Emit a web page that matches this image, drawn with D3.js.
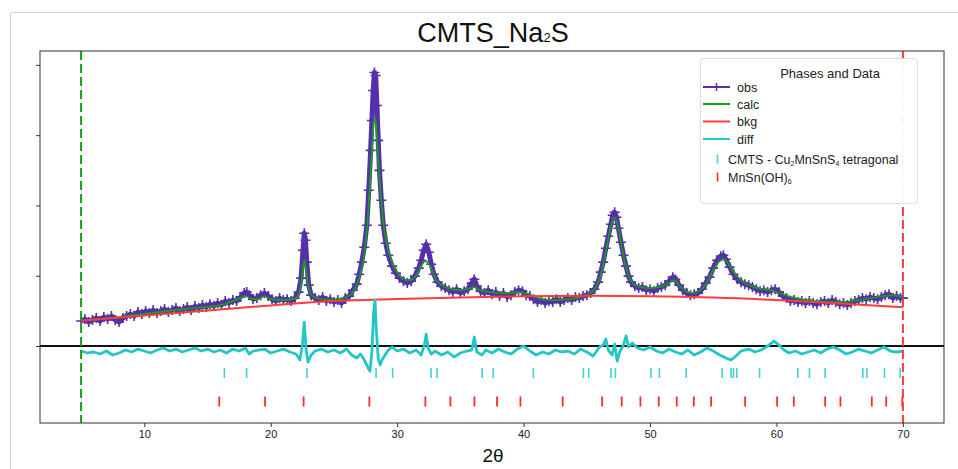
<!DOCTYPE html>
<html>
<head>
<meta charset="utf-8">
<script src="https://cdn.jsdelivr.net/npm/d3@7"></script>
<style>
  body { margin: 0; background: #fff; }
  text { font-family: "Liberation Sans", Arial, sans-serif; }
</style>
</head>
<body>
<svg id="chart"></svg>
<script>
// 2theta / intensity pairs
const obs = [
  [5.0,355],[5.3,383],[5.6,341],[5.9,369],[6.2,398],[6.5,355],[6.8,412],[7.1,383],[7.4,426],[7.7,369],
  [8.0,341],[8.3,398],[8.6,426],[8.9,454],[9.2,426],[9.5,483],[9.8,454],[10.1,497],[10.4,469],[10.7,511],
  [11.0,469],[11.3,497],[11.6,525],[11.9,483],[12.2,511],[12.5,540],[12.8,497],[13.1,525],[13.4,554],[13.7,511],
  [14.0,568],[14.3,540],[14.6,582],[14.9,554],[15.2,596],[15.5,568],[15.8,611],[16.1,582],[16.4,639],[16.7,611],
  [17.0,653],[17.3,639],[17.6,696],[17.9,753],[18.1,767],[18.3,724],[18.6,667],[18.9,682],[19.2,724],[19.5,753],
  [19.8,710],[20.1,667],[20.4,639],[20.7,682],[21.0,653],[21.3,667],[21.6,639],[21.9,682],[22.2,767],[22.4,966],
  [22.55,1363],[22.65,1605],[22.75,1505],[22.85,1193],[23.0,866],[23.2,724],[23.5,682],[23.8,653],[24.1,696],[24.4,639],
  [24.7,667],[25.0,625],[25.3,653],[25.6,611],[25.9,682],[26.2,710],[26.5,795],[26.8,880],[27.0,1022],[27.2,1193],
  [27.4,1406],[27.6,1718],[27.75,2215],[27.9,2783],[28.0,3209],[28.1,3635],[28.2,3891],[28.3,3848],[28.4,3422],[28.5,2925],
  [28.6,2499],[28.75,2073],[28.9,1718],[29.1,1463],[29.3,1292],[29.6,1136],[29.9,1037],[30.2,966],[30.5,923],[30.8,895],
  [31.1,923],[31.4,994],[31.7,1108],[31.9,1221],[32.1,1363],[32.3,1448],[32.5,1335],[32.7,1164],[32.9,1022],[33.2,909],
  [33.5,852],[33.8,824],[34.1,795],[34.4,767],[34.7,809],[35.0,753],[35.3,781],[35.6,809],[35.9,895],[36.1,951],
  [36.3,852],[36.6,781],[36.9,753],[37.2,795],[37.5,738],[37.8,767],[38.1,710],[38.4,753],[38.7,696],[39.0,724],
  [39.3,767],[39.6,795],[39.9,781],[40.2,724],[40.5,710],[40.8,667],[41.1,625],[41.4,653],[41.7,611],[42.0,639],
  [42.3,625],[42.6,667],[42.9,625],[43.2,653],[43.5,682],[43.8,653],[44.1,696],[44.4,682],[44.7,710],[45.0,724],
  [45.3,753],[45.6,809],[45.9,909],[46.1,1051],[46.3,1193],[46.5,1392],[46.7,1562],[46.9,1732],[47.05,1860],[47.2,1903],
  [47.35,1832],[47.5,1676],[47.7,1477],[47.9,1292],[48.1,1136],[48.3,994],[48.5,909],[48.8,852],[49.1,824],[49.4,838],
  [49.7,795],[50.0,809],[50.3,781],[50.6,824],[50.9,838],[51.2,866],[51.5,923],[51.8,980],[52.0,951],[52.3,866],
  [52.6,795],[52.9,753],[53.2,724],[53.5,738],[53.8,753],[54.1,809],[54.4,895],[54.7,980],[55.0,1108],[55.3,1221],
  [55.6,1278],[55.8,1292],[56.0,1235],[56.3,1122],[56.6,1022],[56.9,951],[57.2,909],[57.5,880],[57.8,866],[58.1,838],
  [58.4,809],[58.7,781],[59.0,795],[59.3,767],[59.6,795],[59.9,809],[60.2,767],[60.5,710],[60.8,682],[61.1,639],
  [61.4,653],[61.7,625],[62.0,639],[62.3,611],[62.6,639],[62.9,611],[63.2,596],[63.5,625],[63.8,639],[64.1,611],
  [64.4,653],[64.7,625],[65.0,596],[65.3,611],[65.6,582],[65.9,611],[66.2,639],[66.5,653],[66.8,682],[67.1,667],
  [67.4,696],[67.7,682],[68.0,667],[68.3,696],[68.6,724],[68.9,738],[69.2,682],[69.5,710],[69.8,682],[70.0,682]
];

const calc = [
  [5,362],[8,412],[11,483],[14,540],[16,582],[17,639],[17.6,682],[18.05,710],[18.5,667],[19.0,667],
  [19.5,710],[20.0,667],[21,653],[22,682],[22.3,795],[22.5,1008],[22.65,1221],[22.8,1079],[23.0,824],[23.3,710],
  [24,667],[25,653],[26,696],[26.5,767],[27.0,980],[27.3,1193],[27.6,1647],[27.8,2144],[28.0,2783],[28.15,3181],
  [28.25,3238],[28.35,3096],[28.5,2641],[28.7,2144],[28.9,1761],[29.2,1434],[29.6,1193],[30.0,1051],[30.5,951],[31.0,937],
  [31.5,1008],[31.9,1136],[32.2,1207],[32.4,1193],[32.7,1108],[33.0,966],[33.5,866],[34,824],[35,795],[35.8,824],
  [36.1,838],[36.5,795],[37.5,767],[38.5,753],[39.7,767],[40.5,724],[41.5,667],[42.5,653],[43.5,667],[44.5,696],
  [45.3,753],[45.8,866],[46.2,1079],[46.6,1434],[46.9,1704],[47.2,1832],[47.5,1676],[47.8,1363],[48.1,1122],[48.5,923],
  [49,852],[50,824],[51,852],[51.5,895],[51.9,937],[52.3,866],[52.8,781],[53.4,753],[54,795],[54.5,909],
  [55,1079],[55.5,1207],[55.8,1235],[56.1,1193],[56.5,1079],[57,966],[57.5,895],[58.5,824],[59.5,795],[60.5,738],
  [61.5,682],[63,639],[65,625],[66.5,653],[67.5,682],[68.5,710],[69.2,724],[70,696]
];

const bkg = [
  [5,360],[10,433],[15,505],[20,578],[25,640],[30,668],[35,690],[40,707],[45,714],[50,708],
  [55,690],[60,654],[65,604],[70,550]
];

const diff = [
  [5.0,-71],[5.5,-99],[6,-85],[6.5,-114],[7,-71],[7.5,-128],[8,-99],[8.5,-57],[9,-85],[9.5,-43],
  [10,-71],[10.5,-99],[11,-57],[11.5,-28],[12,-71],[12.5,-43],[13,-85],[13.5,-57],[14,-28],[14.5,-71],
  [15,-43],[15.5,-85],[16,-57],[16.5,-99],[17,-43],[17.5,-71],[18,-28],[18.3,-114],[18.6,-71],[19,-57],
  [19.5,-43],[20,-99],[20.5,-71],[21,-43],[21.5,-85],[22,-114],[22.3,-199],[22.5,14],[22.65,341],[22.8,-57],
  [22.95,-227],[23.2,-128],[23.5,-71],[24,-43],[24.5,-85],[25,-57],[25.5,-99],[26,-43],[26.4,-128],[26.8,-170],
  [27.1,-114],[27.4,-199],[27.7,-312],[27.85,-355],[28.0,-85],[28.15,511],[28.25,653],[28.35,227],[28.5,-170],[28.65,-270],
  [28.8,-199],[29.0,-142],[29.3,-57],[29.6,-14],[30,-71],[30.5,-43],[31,-99],[31.5,-57],[31.9,-128],[32.15,14],
  [32.3,170],[32.45,-28],[32.7,-114],[33.0,-71],[33.5,-128],[34,-85],[34.5,-156],[35,-99],[35.5,-71],[35.9,-57],
  [36.1,128],[36.3,-85],[36.7,-128],[37,-57],[37.5,-99],[38,-43],[38.5,-85],[39,-114],[39.5,-43],[40,0],
  [40.5,-71],[41,-128],[41.5,-85],[42,-114],[42.5,-57],[43,-85],[43.5,-71],[44,-114],[44.5,-43],[45,-85],
  [45.5,-142],[46,-14],[46.3,14],[46.5,99],[46.7,-57],[47.0,-128],[47.2,28],[47.4,-213],[47.6,-85],[47.9,14],
  [48.1,142],[48.3,-14],[48.6,43],[49,-28],[49.5,-57],[50,-14],[50.5,-71],[51,-99],[51.5,-43],[52,-85],
  [52.5,-114],[53,-57],[53.5,-128],[54,-85],[54.5,-28],[55,-71],[55.5,-128],[56,-170],[56.4,-199],[56.8,-142],
  [57.2,-71],[57.8,-43],[58.3,-85],[58.8,-57],[59.3,0],[59.8,71],[60.2,14],[60.6,-57],[61,-99],[61.5,-71],
  [62,-114],[62.5,-85],[63,-57],[63.5,-99],[64,-43],[64.5,-14],[65,-57],[65.5,-114],[66,-85],[66.5,-43],
  [67,-71],[67.5,-99],[68,-57],[68.5,-14],[69,-71],[69.5,-85],[70,-71]
];

// reflection positions (2theta) of the two phases
const cmtsTicks = [16.33,18.09,22.87,28.33,29.64,32.68,33.15,36.72,37.6,40.77,44.73,45.15,46.92,47.26,50.08,
  50.74,52.86,55.7,56.41,56.6,56.86,58.66,61.69,62.61,63.85,66.83,67.15,68.54,69.78];
const hydroxTicks = [15.93,19.55,22.6,27.8,32.23,34.21,36.11,37.9,39.75,43.09,46.21,47.76,49.24,50.69,52.11,
  53.46,54.83,57.52,60.05,61.37,63.85,65.06,67.54,68.68,69.95];
const cmtsRow = -384;
const hydroxRow = -789;

const xTicks = [10, 20, 30, 40, 50, 60, 70];
const yTicks = [0, 1000, 2000, 3000, 4000];
const limits = [5, 70];

const width = 958, height = 469;
const plotLeft = 40, plotRight = 944, plotTop = 51, plotBottom = 423;

const colObs = "#5530a8", colCalc = "#12a312", colBkg = "#ff3b3b", colDiff = "#22c6c6";
const colTickC = "#3fd3d3", colTickR = "#ff2a2a";

const svg = d3.select("#chart").attr("width", width).attr("height", height);

// outer frame of the figure
svg.append("path")
    .attr("d", `M10.5,${height} V12.5 H${width}`)
    .attr("fill", "none")
    .attr("stroke", "#d0d0d0");

const x = d3.scaleLinear().domain([1.75, 73.25]).range([plotLeft, plotRight]);
const y = d3.scaleLinear().domain([-1095, 4197]).range([plotBottom, plotTop]);

svg.append("clipPath").attr("id", "plotArea")
    .append("rect")
    .attr("x", plotLeft).attr("y", plotTop)
    .attr("width", plotRight - plotLeft).attr("height", plotBottom - plotTop);

const plot = svg.append("g").attr("clip-path", "url(#plotArea)");

const line = d3.line().x(d => x(d[0])).y(d => y(d[1]));
const smooth = d3.line().x(d => x(d[0])).y(d => y(d[1])).curve(d3.curveMonotoneX);

// observed: thick line plus "+" markers
plot.append("path")
    .datum(obs)
    .attr("d", line)
    .attr("fill", "none")
    .attr("stroke", colObs)
    .attr("stroke-width", 5)
    .attr("stroke-linejoin", "round");

plot.append("g").selectAll("path")
    .data(obs)
    .enter().append("path")
    .attr("d", d => `M${x(d[0]) - 5},${y(d[1])}h10M${x(d[0])},${y(d[1]) - 5}v10`)
    .attr("stroke", colObs)
    .attr("stroke-width", 1.6);

// calc
plot.append("path")
    .datum(calc)
    .attr("d", smooth)
    .attr("fill", "none")
    .attr("stroke", colCalc)
    .attr("stroke-width", 1.7);

// background
plot.append("path")
    .datum(bkg)
    .attr("d", smooth)
    .attr("fill", "none")
    .attr("stroke", colBkg)
    .attr("stroke-width", 2);

// zero line
plot.append("line")
    .attr("x1", plotLeft).attr("x2", plotRight)
    .attr("y1", y(0)).attr("y2", y(0))
    .attr("stroke", "#111")
    .attr("stroke-width", 2);

// difference
plot.append("path")
    .datum(diff)
    .attr("d", line)
    .attr("fill", "none")
    .attr("stroke", colDiff)
    .attr("stroke-width", 2.8)
    .attr("stroke-linejoin", "round");

// reflection markers
plot.append("g").selectAll("line")
    .data(cmtsTicks)
    .enter().append("line")
    .attr("x1", d => x(d)).attr("x2", d => x(d))
    .attr("y1", y(cmtsRow) - 5).attr("y2", y(cmtsRow) + 5)
    .attr("stroke", colTickC)
    .attr("stroke-width", 1.6);

plot.append("g").selectAll("line")
    .data(hydroxTicks)
    .enter().append("line")
    .attr("x1", d => x(d)).attr("x2", d => x(d))
    .attr("y1", y(hydroxRow) - 5).attr("y2", y(hydroxRow) + 5)
    .attr("stroke", colTickR)
    .attr("stroke-width", 1.8);

// refinement limits
plot.selectAll(".limit")
    .data(limits)
    .enter().append("line")
    .attr("class", "limit")
    .attr("x1", d => x(d)).attr("x2", d => x(d))
    .attr("y1", plotTop).attr("y2", plotBottom)
    .attr("stroke", (d, i) => i === 0 ? "#14a014" : "#ff3b30")
    .attr("stroke-width", 2)
    .attr("stroke-dasharray", "9,4");

// axes
const xAxis = svg.append("g")
    .attr("transform", `translate(0,${plotBottom})`)
    .call(d3.axisBottom(x).tickValues(xTicks).tickSize(4).tickPadding(3));
xAxis.select(".domain").remove();
xAxis.selectAll("text")
    .attr("font-family", "DejaVu Sans, sans-serif")
    .attr("font-size", 11)
    .attr("fill", "#222");
xAxis.selectAll("line").attr("stroke", "#333");

const yAxis = svg.append("g")
    .attr("transform", `translate(${plotLeft},0)`)
    .call(d3.axisLeft(y).tickValues(yTicks).tickSize(4).tickFormat(""));
yAxis.select(".domain").remove();
yAxis.selectAll("line").attr("stroke", "#333");

svg.append("rect")
    .attr("x", plotLeft).attr("y", plotTop)
    .attr("width", plotRight - plotLeft).attr("height", plotBottom - plotTop)
    .attr("fill", "none")
    .attr("stroke", "#333")
    .attr("stroke-width", 1);

svg.append("text")
    .attr("x", 493)
    .attr("y", 462)
    .attr("text-anchor", "middle")
    .attr("font-family", "DejaVu Sans, sans-serif")
    .attr("font-size", 19)
    .attr("fill", "#111")
    .text("2θ");

// title
const title = svg.append("text")
    .attr("x", 493)
    .attr("y", 42)
    .attr("text-anchor", "middle")
    .attr("font-size", 27)
    .attr("fill", "#111");
title.append("tspan").text("CMTS_Na");
title.append("tspan").attr("font-size", 13).text("2");
title.append("tspan").text("S");

// legend
const legend = svg.append("g");
legend.append("rect")
    .attr("x", 700.5).attr("y", 58.5)
    .attr("width", 217).attr("height", 145)
    .attr("rx", 3)
    .attr("fill", "#fff")
    .attr("fill-opacity", 0.95)
    .attr("stroke", "#ddd");

legend.append("text")
    .attr("x", 830).attr("y", 78)
    .attr("text-anchor", "middle")
    .attr("font-size", 13)
    .attr("fill", "#222")
    .text("Phases and Data");

const lineEntries = [
  {name: "obs", color: colObs, cy: 87},
  {name: "calc", color: colCalc, cy: 104},
  {name: "bkg", color: colBkg, cy: 121.5},
  {name: "diff", color: colDiff, cy: 139}
];

lineEntries.forEach(e =>
{
    legend.append("line")
        .attr("x1", 703).attr("x2", 730)
        .attr("y1", e.cy).attr("y2", e.cy)
        .attr("stroke", e.color)
        .attr("stroke-width", 2);
    if (e.name === "obs")
    {
        legend.append("path")
            .attr("d", `M712.5,${e.cy}h8M716.5,${e.cy - 4}v8`)
            .attr("stroke", e.color)
            .attr("stroke-width", 1.5);
    }
    legend.append("text")
        .attr("x", 737).attr("y", e.cy + 4.5)
        .attr("font-size", 12.5)
        .attr("fill", "#222")
        .text(e.name);
});

const phaseEntries = [
  {parts: [["CMTS - Cu", false], ["2", true], ["MnSnS", false], ["4", true], [" tetragonal", false]], color: colTickC, cy: 159},
  {parts: [["MnSn(OH)", false], ["6", true]], color: colTickR, cy: 177}
];

phaseEntries.forEach(e =>
{
    legend.append("line")
        .attr("x1", 717.5).attr("x2", 717.5)
        .attr("y1", e.cy - 4.5).attr("y2", e.cy + 4.5)
        .attr("stroke", e.color)
        .attr("stroke-width", 1.6);
    const t = legend.append("text")
        .attr("x", 728).attr("y", e.cy + 4.5)
        .attr("font-size", 12.5)
        .attr("fill", "#222");
    let lowered = false;
    e.parts.forEach(p =>
    {
        const dy = p[1] ? 2 : (lowered ? -2 : 0);
        lowered = p[1];
        t.append("tspan")
            .attr("font-size", p[1] ? 7 : 12.5)
            .attr("dy", dy)
            .text(p[0]);
    });
});
</script>
</body>
</html>
